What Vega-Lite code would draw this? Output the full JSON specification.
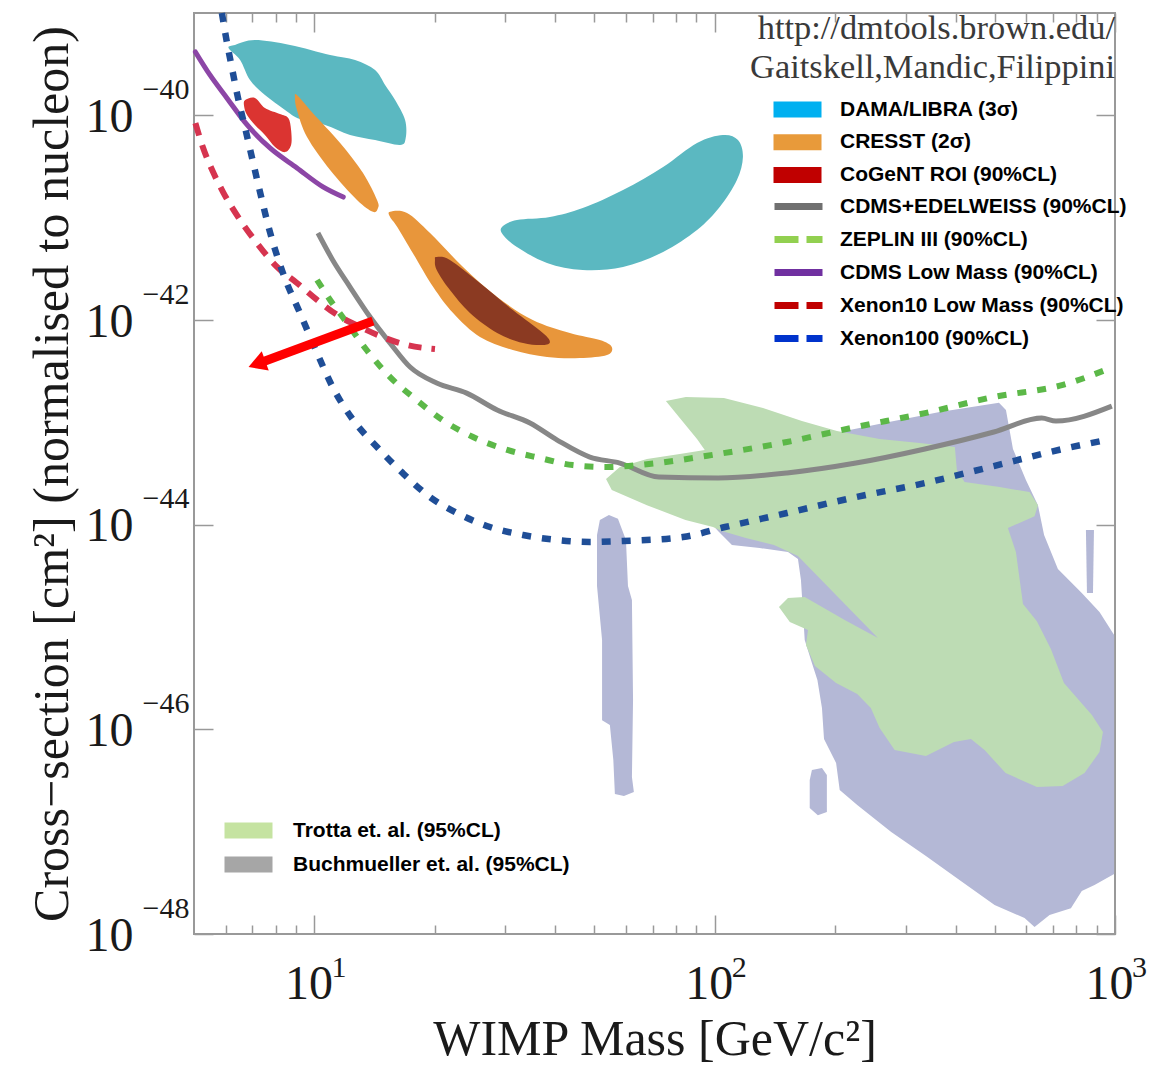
{
  "$schema": "https://vega.github.io/schema/vega-lite/v6.json",
  "width": 921,
  "height": 921,
  "autosize": {"type": "none"},
  "padding": {"left": 194, "top": 13, "right": 42, "bottom": 136},
  "background": "white",
  "config": {"view": {"stroke": "#999999", "strokeWidth": 2}, "font": "Liberation Sans"},
  "title": {
    "text": ["http://dmtools.brown.edu/", "Gaitskell,Mandic,Filippini"],
    "orient": "top", "anchor": "end", "frame": "group", "offset": 0, "baseline": "top", "dy": 85,
    "font": "Liberation Serif", "fontSize": 34.4, "fontWeight": "normal", "color": "#3a3a3a", "lineHeight": 39
  },
  "datasets": {
    "regions": [
      {"series": "DAMA/LIBRA (3σ)", "part": "d1", "i": 1, "mass": 6.33, "xsec": 4.87e-40},
      {"series": "DAMA/LIBRA (3σ)", "part": "d1", "i": 2, "mass": 7.10, "xsec": 5.44e-40},
      {"series": "DAMA/LIBRA (3σ)", "part": "d1", "i": 3, "mass": 8.69, "xsec": 4.87e-40},
      {"series": "DAMA/LIBRA (3σ)", "part": "d1", "i": 4, "mass": 10.94, "xsec": 3.89e-40},
      {"series": "DAMA/LIBRA (3σ)", "part": "d1", "i": 5, "mass": 12.63, "xsec": 3.47e-40},
      {"series": "DAMA/LIBRA (3σ)", "part": "d1", "i": 6, "mass": 14.17, "xsec": 2.77e-40},
      {"series": "DAMA/LIBRA (3σ)", "part": "d1", "i": 7, "mass": 15.01, "xsec": 1.98e-40},
      {"series": "DAMA/LIBRA (3σ)", "part": "d1", "i": 8, "mass": 15.90, "xsec": 1.41e-40},
      {"series": "DAMA/LIBRA (3σ)", "part": "d1", "i": 9, "mass": 16.84, "xsec": 9.00e-41},
      {"series": "DAMA/LIBRA (3σ)", "part": "d1", "i": 10, "mass": 16.9, "xsec": 6.0e-41},
      {"series": "DAMA/LIBRA (3σ)", "part": "d1", "i": 11, "mass": 16.36, "xsec": 5.13e-41},
      {"series": "DAMA/LIBRA (3σ)", "part": "d1", "i": 12, "mass": 14.17, "xsec": 5.74e-41},
      {"series": "DAMA/LIBRA (3σ)", "part": "d1", "i": 13, "mass": 12.27, "xsec": 6.43e-41},
      {"series": "DAMA/LIBRA (3σ)", "part": "d1", "i": 14, "mass": 10.63, "xsec": 8.05e-41},
      {"series": "DAMA/LIBRA (3σ)", "part": "d1", "i": 15, "mass": 9.20, "xsec": 9.2e-41},
      {"series": "DAMA/LIBRA (3σ)", "part": "d1", "i": 16, "mass": 8.44, "xsec": 1.13e-40},
      {"series": "DAMA/LIBRA (3σ)", "part": "d1", "i": 17, "mass": 7.52, "xsec": 1.58e-40},
      {"series": "DAMA/LIBRA (3σ)", "part": "d1", "i": 18, "mass": 6.90, "xsec": 2.21e-40},
      {"series": "DAMA/LIBRA (3σ)", "part": "d1", "i": 19, "mass": 6.52, "xsec": 3.47e-40},
      {"series": "DAMA/LIBRA (3σ)", "part": "d1", "i": 20, "mass": 6.10, "xsec": 4.55e-40},
      {"series": "DAMA/LIBRA (3σ)", "part": "d2", "i": 1, "mass": 29.4, "xsec": 8.11e-42},
      {"series": "DAMA/LIBRA (3σ)", "part": "d2", "i": 2, "mass": 32.05, "xsec": 9.48e-42},
      {"series": "DAMA/LIBRA (3σ)", "part": "d2", "i": 3, "mass": 38.74, "xsec": 1.015e-41},
      {"series": "DAMA/LIBRA (3σ)", "part": "d2", "i": 4, "mass": 46.8, "xsec": 1.24e-41},
      {"series": "DAMA/LIBRA (3σ)", "part": "d2", "i": 5, "mass": 59.0, "xsec": 1.86e-41},
      {"series": "DAMA/LIBRA (3σ)", "part": "d2", "i": 6, "mass": 74.3, "xsec": 3.13e-41},
      {"series": "DAMA/LIBRA (3σ)", "part": "d2", "i": 7, "mass": 90.3, "xsec": 5.37e-41},
      {"series": "DAMA/LIBRA (3σ)", "part": "d2", "i": 8, "mass": 104.8, "xsec": 6.43e-41},
      {"series": "DAMA/LIBRA (3σ)", "part": "d2", "i": 9, "mass": 114.3, "xsec": 5.74e-41},
      {"series": "DAMA/LIBRA (3σ)", "part": "d2", "i": 10, "mass": 117.6, "xsec": 3.92e-41},
      {"series": "DAMA/LIBRA (3σ)", "part": "d2", "i": 11, "mass": 113.6, "xsec": 2.33e-41},
      {"series": "DAMA/LIBRA (3σ)", "part": "d2", "i": 12, "mass": 102.9, "xsec": 1.27e-41},
      {"series": "DAMA/LIBRA (3σ)", "part": "d2", "i": 13, "mass": 90.3, "xsec": 7.57e-42},
      {"series": "DAMA/LIBRA (3σ)", "part": "d2", "i": 14, "mass": 74.3, "xsec": 4.62e-42},
      {"series": "DAMA/LIBRA (3σ)", "part": "d2", "i": 15, "mass": 59.0, "xsec": 3.30e-42},
      {"series": "DAMA/LIBRA (3σ)", "part": "d2", "i": 16, "mass": 46.8, "xsec": 3.08e-42},
      {"series": "DAMA/LIBRA (3σ)", "part": "d2", "i": 17, "mass": 38.1, "xsec": 3.61e-42},
      {"series": "DAMA/LIBRA (3σ)", "part": "d2", "i": 18, "mass": 32.05, "xsec": 5.17e-42},
      {"series": "DAMA/LIBRA (3σ)", "part": "d2", "i": 19, "mass": 29.6, "xsec": 6.77e-42},
      {"series": "CoGeNT ROI (90%CL)", "part": "c1", "i": 1, "mass": 6.71, "xsec": 1.41e-40},
      {"series": "CoGeNT ROI (90%CL)", "part": "c1", "i": 2, "mass": 7.10, "xsec": 1.48e-40},
      {"series": "CoGeNT ROI (90%CL)", "part": "c1", "i": 3, "mass": 7.52, "xsec": 1.18e-40},
      {"series": "CoGeNT ROI (90%CL)", "part": "c1", "i": 4, "mass": 8.20, "xsec": 1.03e-40},
      {"series": "CoGeNT ROI (90%CL)", "part": "c1", "i": 5, "mass": 8.6, "xsec": 9.4e-41},
      {"series": "CoGeNT ROI (90%CL)", "part": "c1", "i": 6, "mass": 8.74, "xsec": 7.19e-41},
      {"series": "CoGeNT ROI (90%CL)", "part": "c1", "i": 7, "mass": 8.74, "xsec": 5.13e-41},
      {"series": "CoGeNT ROI (90%CL)", "part": "c1", "i": 8, "mass": 8.44, "xsec": 4.37e-41},
      {"series": "CoGeNT ROI (90%CL)", "part": "c1", "i": 9, "mass": 7.97, "xsec": 4.90e-41},
      {"series": "CoGeNT ROI (90%CL)", "part": "c1", "i": 10, "mass": 7.52, "xsec": 6.43e-41},
      {"series": "CoGeNT ROI (90%CL)", "part": "c1", "i": 11, "mass": 7.10, "xsec": 8.05e-41},
      {"series": "CoGeNT ROI (90%CL)", "part": "c1", "i": 12, "mass": 6.79, "xsec": 1.00e-40},
      {"series": "CoGeNT ROI (90%CL)", "part": "c1", "i": 13, "mass": 6.67, "xsec": 1.23e-40},
      {"series": "CRESST (2σ)", "part": "r1", "i": 1, "mass": 9.04, "xsec": 1.58e-40},
      {"series": "CRESST (2σ)", "part": "r1", "i": 2, "mass": 9.91, "xsec": 1.05e-40},
      {"series": "CRESST (2σ)", "part": "r1", "i": 3, "mass": 11.59, "xsec": 5.37e-41},
      {"series": "CRESST (2σ)", "part": "r1", "i": 4, "mass": 13.22, "xsec": 2.73e-41},
      {"series": "CRESST (2σ)", "part": "r1", "i": 5, "mass": 14.33, "xsec": 1.49e-41},
      {"series": "CRESST (2σ)", "part": "r1", "i": 6, "mass": 14.41, "xsec": 1.24e-41},
      {"series": "CRESST (2σ)", "part": "r1", "i": 7, "mass": 14.0, "xsec": 1.14e-41},
      {"series": "CRESST (2σ)", "part": "r1", "i": 8, "mass": 12.77, "xsec": 1.49e-41},
      {"series": "CRESST (2σ)", "part": "r1", "i": 9, "mass": 10.94, "xsec": 2.92e-41},
      {"series": "CRESST (2σ)", "part": "r1", "i": 10, "mass": 9.58, "xsec": 6.14e-41},
      {"series": "CRESST (2σ)", "part": "r1", "i": 11, "mass": 9.04, "xsec": 1.13e-40},
      {"series": "CRESST (2σ)", "part": "r1", "i": 12, "mass": 8.94, "xsec": 1.48e-40},
      {"series": "CRESST (2σ)", "part": "r2", "i": 1, "mass": 15.45, "xsec": 1.14e-41},
      {"series": "CRESST (2σ)", "part": "r2", "i": 2, "mass": 17.03, "xsec": 1.11e-41},
      {"series": "CRESST (2σ)", "part": "r2", "i": 3, "mass": 19.44, "xsec": 7.08e-42},
      {"series": "CRESST (2σ)", "part": "r2", "i": 4, "mass": 23.5, "xsec": 3.30e-42},
      {"series": "CRESST (2σ)", "part": "r2", "i": 5, "mass": 28.6, "xsec": 1.68e-42},
      {"series": "CRESST (2σ)", "part": "r2", "i": 6, "mass": 35.1, "xsec": 1.00e-42},
      {"series": "CRESST (2σ)", "part": "r2", "i": 7, "mass": 43.46, "xsec": 7.46e-43},
      {"series": "CRESST (2σ)", "part": "r2", "i": 8, "mass": 51.64, "xsec": 6.37e-43},
      {"series": "CRESST (2σ)", "part": "r2", "i": 9, "mass": 55.3, "xsec": 5.45e-43},
      {"series": "CRESST (2σ)", "part": "r2", "i": 10, "mass": 53.8, "xsec": 4.55e-43},
      {"series": "CRESST (2σ)", "part": "r2", "i": 11, "mass": 46.03, "xsec": 4.25e-43},
      {"series": "CRESST (2σ)", "part": "r2", "i": 12, "mass": 38.1, "xsec": 4.35e-43},
      {"series": "CRESST (2σ)", "part": "r2", "i": 13, "mass": 31.3, "xsec": 5.09e-43},
      {"series": "CRESST (2σ)", "part": "r2", "i": 14, "mass": 25.91, "xsec": 6.82e-43},
      {"series": "CRESST (2σ)", "part": "r2", "i": 15, "mass": 22.2, "xsec": 1.17e-42},
      {"series": "CRESST (2σ)", "part": "r2", "i": 16, "mass": 19.8, "xsec": 2.10e-42},
      {"series": "CRESST (2σ)", "part": "r2", "i": 17, "mass": 17.6, "xsec": 4.52e-42},
      {"series": "CRESST (2σ)", "part": "r2", "i": 18, "mass": 16.1, "xsec": 8.11e-42},
      {"series": "CRESST (2σ)", "part": "r2", "i": 19, "mass": 15.45, "xsec": 1.015e-41}
    ],
    "cresst1": [
      {"i": 1, "mass": 20.2, "xsec": 4.13e-42},
      {"i": 2, "mass": 21.8, "xsec": 3.86e-42},
      {"i": 3, "mass": 25.9, "xsec": 2.30e-42},
      {"i": 4, "mass": 31.3, "xsec": 1.25e-42},
      {"i": 5, "mass": 37.2, "xsec": 7.46e-43},
      {"i": 6, "mass": 38.74, "xsec": 6.10e-43},
      {"i": 7, "mass": 37.2, "xsec": 5.69e-43},
      {"i": 8, "mass": 33.2, "xsec": 5.95e-43},
      {"i": 9, "mass": 28.6, "xsec": 7.46e-43},
      {"i": 10, "mass": 24.46, "xsec": 1.17e-42},
      {"i": 11, "mass": 21.8, "xsec": 1.96e-42},
      {"i": 12, "mass": 20.2, "xsec": 3.08e-42},
      {"i": 13, "mass": 20.0, "xsec": 3.86e-42}
    ],
    "limits": [
      {"series": "CDMS Low Mass (90%CL)", "mass": 5.04, "xsec": 4.16e-40},
      {"series": "CDMS Low Mass (90%CL)", "mass": 5.48, "xsec": 2.48e-40},
      {"series": "CDMS Low Mass (90%CL)", "mass": 6.04, "xsec": 1.48e-40},
      {"series": "CDMS Low Mass (90%CL)", "mass": 6.79, "xsec": 8.05e-41},
      {"series": "CDMS Low Mass (90%CL)", "mass": 7.74, "xsec": 4.80e-41},
      {"series": "CDMS Low Mass (90%CL)", "mass": 9.04, "xsec": 3.06e-41},
      {"series": "CDMS Low Mass (90%CL)", "mass": 10.5, "xsec": 2.0e-41},
      {"series": "CDMS Low Mass (90%CL)", "mass": 11.8, "xsec": 1.59e-41},
      {"series": "Xenon100 (90%CL)", "mass": 5.87, "xsec": 1.0e-39},
      {"series": "Xenon100 (90%CL)", "mass": 6.04, "xsec": 5.21e-40},
      {"series": "Xenon100 (90%CL)", "mass": 6.22, "xsec": 2.90e-40},
      {"series": "Xenon100 (90%CL)", "mass": 6.44, "xsec": 1.48e-40},
      {"series": "Xenon100 (90%CL)", "mass": 6.71, "xsec": 7.52e-41},
      {"series": "Xenon100 (90%CL)", "mass": 7.02, "xsec": 3.50e-41},
      {"series": "Xenon100 (90%CL)", "mass": 7.31, "xsec": 1.78e-41},
      {"series": "Xenon100 (90%CL)", "mass": 7.74, "xsec": 7.24e-42},
      {"series": "Xenon100 (90%CL)", "mass": 8.34, "xsec": 2.88e-42},
      {"series": "Xenon100 (90%CL)", "mass": 9.20, "xsec": 1.17e-42},
      {"series": "Xenon100 (90%CL)", "mass": 10.15, "xsec": 4.76e-43},
      {"series": "Xenon100 (90%CL)", "mass": 11.1, "xsec": 2.21e-43},
      {"series": "Xenon100 (90%CL)", "mass": 12.5, "xsec": 1.05e-43},
      {"series": "Xenon100 (90%CL)", "mass": 14.33, "xsec": 5.74e-44},
      {"series": "Xenon100 (90%CL)", "mass": 16.6, "xsec": 3.20e-44},
      {"series": "Xenon100 (90%CL)", "mass": 19.44, "xsec": 1.86e-44},
      {"series": "Xenon100 (90%CL)", "mass": 22.7, "xsec": 1.30e-44},
      {"series": "Xenon100 (90%CL)", "mass": 27.44, "xsec": 9.48e-45},
      {"series": "Xenon100 (90%CL)", "mass": 33.2, "xsec": 7.92e-45},
      {"series": "Xenon100 (90%CL)", "mass": 40.4, "xsec": 7.08e-45},
      {"series": "Xenon100 (90%CL)", "mass": 48.76, "xsec": 6.77e-45},
      {"series": "Xenon100 (90%CL)", "mass": 59.0, "xsec": 6.92e-45},
      {"series": "Xenon100 (90%CL)", "mass": 83.3, "xsec": 7.57e-45},
      {"series": "Xenon100 (90%CL)", "mass": 106.1, "xsec": 9.48e-45},
      {"series": "Xenon100 (90%CL)", "mass": 151.5, "xsec": 1.30e-44},
      {"series": "Xenon100 (90%CL)", "mass": 225.3, "xsec": 1.86e-44},
      {"series": "Xenon100 (90%CL)", "mass": 335, "xsec": 2.55e-44},
      {"series": "Xenon100 (90%CL)", "mass": 498, "xsec": 3.74e-44},
      {"series": "Xenon100 (90%CL)", "mass": 741, "xsec": 5.49e-44},
      {"series": "Xenon100 (90%CL)", "mass": 949, "xsec": 6.71e-44},
      {"series": "Xenon10 Low Mass (90%CL)", "mass": 5.04, "xsec": 8.41e-41},
      {"series": "Xenon10 Low Mass (90%CL)", "mass": 5.26, "xsec": 4.90e-41},
      {"series": "Xenon10 Low Mass (90%CL)", "mass": 5.58, "xsec": 2.79e-41},
      {"series": "Xenon10 Low Mass (90%CL)", "mass": 5.91, "xsec": 1.78e-41},
      {"series": "Xenon10 Low Mass (90%CL)", "mass": 6.52, "xsec": 9.48e-42},
      {"series": "Xenon10 Low Mass (90%CL)", "mass": 7.18, "xsec": 5.65e-42},
      {"series": "Xenon10 Low Mass (90%CL)", "mass": 8.06, "xsec": 3.30e-42},
      {"series": "Xenon10 Low Mass (90%CL)", "mass": 9.04, "xsec": 2.30e-42},
      {"series": "Xenon10 Low Mass (90%CL)", "mass": 10.15, "xsec": 1.57e-42},
      {"series": "Xenon10 Low Mass (90%CL)", "mass": 11.4, "xsec": 1.12e-42},
      {"series": "Xenon10 Low Mass (90%CL)", "mass": 13.0, "xsec": 8.54e-43},
      {"series": "Xenon10 Low Mass (90%CL)", "mass": 14.8, "xsec": 6.82e-43},
      {"series": "Xenon10 Low Mass (90%CL)", "mass": 17.03, "xsec": 5.69e-43},
      {"series": "Xenon10 Low Mass (90%CL)", "mass": 20.0, "xsec": 5.21e-43},
      {"series": "ZEPLIN III (90%CL)", "mass": 10.15, "xsec": 2.46e-42},
      {"series": "ZEPLIN III (90%CL)", "mass": 10.94, "xsec": 1.57e-42},
      {"series": "ZEPLIN III (90%CL)", "mass": 12.06, "xsec": 9.35e-43},
      {"series": "ZEPLIN III (90%CL)", "mass": 13.5, "xsec": 5.09e-43},
      {"series": "ZEPLIN III (90%CL)", "mass": 15.45, "xsec": 2.77e-43},
      {"series": "ZEPLIN III (90%CL)", "mass": 18.0, "xsec": 1.65e-43},
      {"series": "ZEPLIN III (90%CL)", "mass": 20.9, "xsec": 1.05e-43},
      {"series": "ZEPLIN III (90%CL)", "mass": 24.9, "xsec": 7.19e-44},
      {"series": "ZEPLIN III (90%CL)", "mass": 30.3, "xsec": 5.37e-44},
      {"series": "ZEPLIN III (90%CL)", "mass": 36.58, "xsec": 4.48e-44},
      {"series": "ZEPLIN III (90%CL)", "mass": 44.2, "xsec": 3.82e-44},
      {"series": "ZEPLIN III (90%CL)", "mass": 53.8, "xsec": 3.66e-44},
      {"series": "ZEPLIN III (90%CL)", "mass": 68.5, "xsec": 3.92e-44},
      {"series": "ZEPLIN III (90%CL)", "mass": 101.9, "xsec": 4.90e-44},
      {"series": "ZEPLIN III (90%CL)", "mass": 151.5, "xsec": 6.43e-44},
      {"series": "ZEPLIN III (90%CL)", "mass": 225.3, "xsec": 9.0e-44},
      {"series": "ZEPLIN III (90%CL)", "mass": 335, "xsec": 1.23e-43},
      {"series": "ZEPLIN III (90%CL)", "mass": 498, "xsec": 1.77e-43},
      {"series": "ZEPLIN III (90%CL)", "mass": 741, "xsec": 2.32e-43},
      {"series": "ZEPLIN III (90%CL)", "mass": 988, "xsec": 3.47e-43},
      {"series": "CDMS+EDELWEISS (90%CL)", "mass": 10.2, "xsec": 7.08e-42},
      {"series": "CDMS+EDELWEISS (90%CL)", "mass": 11.1, "xsec": 3.86e-42},
      {"series": "CDMS+EDELWEISS (90%CL)", "mass": 12.27, "xsec": 2.10e-42},
      {"series": "CDMS+EDELWEISS (90%CL)", "mass": 13.77, "xsec": 1.07e-42},
      {"series": "CDMS+EDELWEISS (90%CL)", "mass": 15.45, "xsec": 5.95e-43},
      {"series": "CDMS+EDELWEISS (90%CL)", "mass": 17.33, "xsec": 3.47e-43},
      {"series": "CDMS+EDELWEISS (90%CL)", "mass": 20.2, "xsec": 2.42e-43},
      {"series": "CDMS+EDELWEISS (90%CL)", "mass": 24.0, "xsec": 1.93e-43},
      {"series": "CDMS+EDELWEISS (90%CL)", "mass": 28.6, "xsec": 1.32e-43},
      {"series": "CDMS+EDELWEISS (90%CL)", "mass": 34.54, "xsec": 9.85e-44},
      {"series": "CDMS+EDELWEISS (90%CL)", "mass": 40.4, "xsec": 6.71e-44},
      {"series": "CDMS+EDELWEISS (90%CL)", "mass": 48.76, "xsec": 4.58e-44},
      {"series": "CDMS+EDELWEISS (90%CL)", "mass": 57.93, "xsec": 4.00e-44},
      {"series": "CDMS+EDELWEISS (90%CL)", "mass": 72.5, "xsec": 2.92e-44},
      {"series": "CDMS+EDELWEISS (90%CL)", "mass": 101.9, "xsec": 2.86e-44},
      {"series": "CDMS+EDELWEISS (90%CL)", "mass": 151.5, "xsec": 3.20e-44},
      {"series": "CDMS+EDELWEISS (90%CL)", "mass": 225.3, "xsec": 4.00e-44},
      {"series": "CDMS+EDELWEISS (90%CL)", "mass": 335, "xsec": 5.49e-44},
      {"series": "CDMS+EDELWEISS (90%CL)", "mass": 498, "xsec": 8.04e-44},
      {"series": "CDMS+EDELWEISS (90%CL)", "mass": 656, "xsec": 1.10e-43},
      {"series": "CDMS+EDELWEISS (90%CL)", "mass": 712, "xsec": 1.03e-43},
      {"series": "CDMS+EDELWEISS (90%CL)", "mass": 982, "xsec": 1.44e-43}
    ],
    "buch": [
      {"model": "Buchmueller et. al. (95%CL)", "part": "b1", "i": 1, "mass": 88.8, "xsec": 2.28e-44},
      {"model": "Buchmueller et. al. (95%CL)", "part": "b1", "i": 2, "mass": 102.9, "xsec": 3.42e-44},
      {"model": "Buchmueller et. al. (95%CL)", "part": "b1", "i": 3, "mass": 129.5, "xsec": 4.78e-44},
      {"model": "Buchmueller et. al. (95%CL)", "part": "b1", "i": 4, "mass": 163.0, "xsec": 5.99e-44},
      {"model": "Buchmueller et. al. (95%CL)", "part": "b1", "i": 5, "mass": 217.3, "xsec": 8.41e-44},
      {"model": "Buchmueller et. al. (95%CL)", "part": "b1", "i": 6, "mass": 264.6, "xsec": 9.85e-44},
      {"model": "Buchmueller et. al. (95%CL)", "part": "b1", "i": 7, "mass": 364.6, "xsec": 1.26e-43},
      {"model": "Buchmueller et. al. (95%CL)", "part": "b1", "i": 8, "mass": 513, "xsec": 1.55e-43},
      {"model": "Buchmueller et. al. (95%CL)", "part": "b1", "i": 9, "mass": 534, "xsec": 1.32e-43},
      {"model": "Buchmueller et. al. (95%CL)", "part": "b1", "i": 10, "mass": 556, "xsec": 5.49e-44},
      {"model": "Buchmueller et. al. (95%CL)", "part": "b1", "i": 11, "mass": 599, "xsec": 2.73e-44},
      {"model": "Buchmueller et. al. (95%CL)", "part": "b1", "i": 12, "mass": 642, "xsec": 1.55e-44},
      {"model": "Buchmueller et. al. (95%CL)", "part": "b1", "i": 13, "mass": 665, "xsec": 7.92e-45},
      {"model": "Buchmueller et. al. (95%CL)", "part": "b1", "i": 14, "mass": 720, "xsec": 3.69e-45},
      {"model": "Buchmueller et. al. (95%CL)", "part": "b1", "i": 15, "mass": 826, "xsec": 2.15e-45},
      {"model": "Buchmueller et. al. (95%CL)", "part": "b1", "i": 16, "mass": 914.7, "xsec": 1.40e-45},
      {"model": "Buchmueller et. al. (95%CL)", "part": "b1", "i": 17, "mass": 995, "xsec": 8.35e-46},
      {"model": "Buchmueller et. al. (95%CL)", "part": "b1", "i": 18, "mass": 995, "xsec": 3.86e-48},
      {"model": "Buchmueller et. al. (95%CL)", "part": "b1", "i": 19, "mass": 888.8, "xsec": 3.01e-48},
      {"model": "Buchmueller et. al. (95%CL)", "part": "b1", "i": 20, "mass": 826, "xsec": 2.63e-48},
      {"model": "Buchmueller et. al. (95%CL)", "part": "b1", "i": 21, "mass": 776, "xsec": 1.79e-48},
      {"model": "Buchmueller et. al. (95%CL)", "part": "b1", "i": 22, "mass": 686.2, "xsec": 1.53e-48},
      {"model": "Buchmueller et. al. (95%CL)", "part": "b1", "i": 23, "mass": 629.5, "xsec": 1.17e-48},
      {"model": "Buchmueller et. al. (95%CL)", "part": "b1", "i": 24, "mass": 594.3, "xsec": 1.43e-48},
      {"model": "Buchmueller et. al. (95%CL)", "part": "b1", "i": 25, "mass": 500.2, "xsec": 1.92e-48},
      {"model": "Buchmueller et. al. (95%CL)", "part": "b1", "i": 26, "mass": 412, "xsec": 3.30e-48},
      {"model": "Buchmueller et. al. (95%CL)", "part": "b1", "i": 27, "mass": 337, "xsec": 5.78e-48},
      {"model": "Buchmueller et. al. (95%CL)", "part": "b1", "i": 28, "mass": 276, "xsec": 9.92e-48},
      {"model": "Buchmueller et. al. (95%CL)", "part": "b1", "i": 29, "mass": 227, "xsec": 1.82e-47},
      {"model": "Buchmueller et. al. (95%CL)", "part": "b1", "i": 30, "mass": 205.2, "xsec": 2.55e-47},
      {"model": "Buchmueller et. al. (95%CL)", "part": "b1", "i": 31, "mass": 201, "xsec": 4.69e-47},
      {"model": "Buchmueller et. al. (95%CL)", "part": "b1", "i": 32, "mass": 193, "xsec": 6.42e-47},
      {"model": "Buchmueller et. al. (95%CL)", "part": "b1", "i": 33, "mass": 187.5, "xsec": 8.04e-47},
      {"model": "Buchmueller et. al. (95%CL)", "part": "b1", "i": 34, "mass": 185.3, "xsec": 1.62e-46},
      {"model": "Buchmueller et. al. (95%CL)", "part": "b1", "i": 35, "mass": 180.5, "xsec": 3.03e-46},
      {"model": "Buchmueller et. al. (95%CL)", "part": "b1", "i": 36, "mass": 174.9, "xsec": 4.44e-46},
      {"model": "Buchmueller et. al. (95%CL)", "part": "b1", "i": 37, "mass": 167.8, "xsec": 7.46e-46},
      {"model": "Buchmueller et. al. (95%CL)", "part": "b1", "i": 38, "mass": 164.2, "xsec": 2.88e-45},
      {"model": "Buchmueller et. al. (95%CL)", "part": "b1", "i": 39, "mass": 161.4, "xsec": 4.62e-45},
      {"model": "Buchmueller et. al. (95%CL)", "part": "b1", "i": 40, "mass": 152.4, "xsec": 5.41e-45},
      {"model": "Buchmueller et. al. (95%CL)", "part": "b1", "i": 41, "mass": 129.5, "xsec": 5.91e-45},
      {"model": "Buchmueller et. al. (95%CL)", "part": "b1", "i": 42, "mass": 110.4, "xsec": 6.33e-45},
      {"model": "Buchmueller et. al. (95%CL)", "part": "b1", "i": 43, "mass": 101.9, "xsec": 8.67e-45},
      {"model": "Buchmueller et. al. (95%CL)", "part": "b1", "i": 44, "mass": 91.75, "xsec": 1.39e-44},
      {"model": "Buchmueller et. al. (95%CL)", "part": "b2", "i": 1, "mass": 50.8, "xsec": 7.92e-45},
      {"model": "Buchmueller et. al. (95%CL)", "part": "b2", "i": 2, "mass": 51.64, "xsec": 1.11e-44},
      {"model": "Buchmueller et. al. (95%CL)", "part": "b2", "i": 3, "mass": 54.4, "xsec": 1.24e-44},
      {"model": "Buchmueller et. al. (95%CL)", "part": "b2", "i": 4, "mass": 57.3, "xsec": 1.14e-44},
      {"model": "Buchmueller et. al. (95%CL)", "part": "b2", "i": 5, "mass": 60.0, "xsec": 7.08e-45},
      {"model": "Buchmueller et. al. (95%CL)", "part": "b2", "i": 6, "mass": 60.7, "xsec": 2.52e-45},
      {"model": "Buchmueller et. al. (95%CL)", "part": "b2", "i": 7, "mass": 62.1, "xsec": 1.84e-45},
      {"model": "Buchmueller et. al. (95%CL)", "part": "b2", "i": 8, "mass": 62.5, "xsec": 1.93e-46},
      {"model": "Buchmueller et. al. (95%CL)", "part": "b2", "i": 9, "mass": 62.1, "xsec": 3.42e-47},
      {"model": "Buchmueller et. al. (95%CL)", "part": "b2", "i": 10, "mass": 62.8, "xsec": 2.44e-47},
      {"model": "Buchmueller et. al. (95%CL)", "part": "b2", "i": 11, "mass": 59.3, "xsec": 2.23e-47},
      {"model": "Buchmueller et. al. (95%CL)", "part": "b2", "i": 12, "mass": 56.3, "xsec": 2.33e-47},
      {"model": "Buchmueller et. al. (95%CL)", "part": "b2", "i": 13, "mass": 55.8, "xsec": 5.01e-47},
      {"model": "Buchmueller et. al. (95%CL)", "part": "b2", "i": 14, "mass": 54.7, "xsec": 1.10e-46},
      {"model": "Buchmueller et. al. (95%CL)", "part": "b2", "i": 15, "mass": 52.3, "xsec": 1.23e-46},
      {"model": "Buchmueller et. al. (95%CL)", "part": "b2", "i": 16, "mass": 52.3, "xsec": 7.46e-46},
      {"model": "Buchmueller et. al. (95%CL)", "part": "b2", "i": 17, "mass": 50.8, "xsec": 2.52e-45},
      {"model": "Buchmueller et. al. (95%CL)", "part": "b3", "i": 1, "mass": 174.9, "xsec": 4.00e-47},
      {"model": "Buchmueller et. al. (95%CL)", "part": "b3", "i": 2, "mass": 185.3, "xsec": 4.19e-47},
      {"model": "Buchmueller et. al. (95%CL)", "part": "b3", "i": 3, "mass": 190.6, "xsec": 3.57e-47},
      {"model": "Buchmueller et. al. (95%CL)", "part": "b3", "i": 4, "mass": 190.6, "xsec": 1.56e-47},
      {"model": "Buchmueller et. al. (95%CL)", "part": "b3", "i": 5, "mass": 181.0, "xsec": 1.45e-47},
      {"model": "Buchmueller et. al. (95%CL)", "part": "b3", "i": 6, "mass": 172.7, "xsec": 1.70e-47},
      {"model": "Buchmueller et. al. (95%CL)", "part": "b3", "i": 7, "mass": 172.7, "xsec": 3.20e-47},
      {"model": "Buchmueller et. al. (95%CL)", "part": "b4", "i": 1, "mass": 846, "xsec": 8.87e-45},
      {"model": "Buchmueller et. al. (95%CL)", "part": "b4", "i": 2, "mass": 886, "xsec": 8.87e-45},
      {"model": "Buchmueller et. al. (95%CL)", "part": "b4", "i": 3, "mass": 881, "xsec": 2.15e-45},
      {"model": "Buchmueller et. al. (95%CL)", "part": "b4", "i": 4, "mass": 851, "xsec": 2.15e-45}
    ],
    "trotta": [
      {"model": "Trotta et. al. (95%CL)", "i": 1, "mass": 53.5, "xsec": 2.79e-44},
      {"model": "Trotta et. al. (95%CL)", "i": 2, "mass": 57.93, "xsec": 3.66e-44},
      {"model": "Trotta et. al. (95%CL)", "i": 3, "mass": 67.7, "xsec": 4.38e-44},
      {"model": "Trotta et. al. (95%CL)", "i": 4, "mass": 81.78, "xsec": 4.90e-44},
      {"model": "Trotta et. al. (95%CL)", "i": 5, "mass": 94.42, "xsec": 5.37e-44},
      {"model": "Trotta et. al. (95%CL)", "i": 6, "mass": 90.3, "xsec": 6.87e-44},
      {"model": "Trotta et. al. (95%CL)", "i": 7, "mass": 81.78, "xsec": 1.10e-43},
      {"model": "Trotta et. al. (95%CL)", "i": 8, "mass": 75.5, "xsec": 1.62e-43},
      {"model": "Trotta et. al. (95%CL)", "i": 9, "mass": 84.7, "xsec": 1.77e-43},
      {"model": "Trotta et. al. (95%CL)", "i": 10, "mass": 105.4, "xsec": 1.73e-43},
      {"model": "Trotta et. al. (95%CL)", "i": 11, "mass": 132.0, "xsec": 1.38e-43},
      {"model": "Trotta et. al. (95%CL)", "i": 12, "mass": 165.1, "xsec": 1.03e-43},
      {"model": "Trotta et. al. (95%CL)", "i": 13, "mass": 202, "xsec": 8.23e-44},
      {"model": "Trotta et. al. (95%CL)", "i": 14, "mass": 258.2, "xsec": 6.87e-44},
      {"model": "Trotta et. al. (95%CL)", "i": 15, "mass": 325.0, "xsec": 6.28e-44},
      {"model": "Trotta et. al. (95%CL)", "i": 16, "mass": 398, "xsec": 5.74e-44},
      {"model": "Trotta et. al. (95%CL)", "i": 17, "mass": 402.6, "xsec": 3.42e-44},
      {"model": "Trotta et. al. (95%CL)", "i": 18, "mass": 420.9, "xsec": 2.61e-44},
      {"model": "Trotta et. al. (95%CL)", "i": 19, "mass": 514.8, "xsec": 2.33e-44},
      {"model": "Trotta et. al. (95%CL)", "i": 20, "mass": 611.6, "xsec": 2.08e-44},
      {"model": "Trotta et. al. (95%CL)", "i": 21, "mass": 642, "xsec": 1.55e-44},
      {"model": "Trotta et. al. (95%CL)", "i": 22, "mass": 629.5, "xsec": 1.21e-44},
      {"model": "Trotta et. al. (95%CL)", "i": 23, "mass": 540, "xsec": 9.28e-45},
      {"model": "Trotta et. al. (95%CL)", "i": 24, "mass": 565.5, "xsec": 5.41e-45},
      {"model": "Trotta et. al. (95%CL)", "i": 25, "mass": 589, "xsec": 1.68e-45},
      {"model": "Trotta et. al. (95%CL)", "i": 26, "mass": 638, "xsec": 1.14e-45},
      {"model": "Trotta et. al. (95%CL)", "i": 27, "mass": 691.5, "xsec": 6.09e-46},
      {"model": "Trotta et. al. (95%CL)", "i": 28, "mass": 745.5, "xsec": 2.84e-46},
      {"model": "Trotta et. al. (95%CL)", "i": 29, "mass": 875.5, "xsec": 1.38e-46},
      {"model": "Trotta et. al. (95%CL)", "i": 30, "mass": 933, "xsec": 9.41e-47},
      {"model": "Trotta et. al. (95%CL)", "i": 31, "mass": 914.7, "xsec": 6.00e-47},
      {"model": "Trotta et. al. (95%CL)", "i": 32, "mass": 839.1, "xsec": 3.74e-47},
      {"model": "Trotta et. al. (95%CL)", "i": 33, "mass": 740, "xsec": 2.79e-47},
      {"model": "Trotta et. al. (95%CL)", "i": 34, "mass": 638, "xsec": 2.73e-47},
      {"model": "Trotta et. al. (95%CL)", "i": 35, "mass": 533, "xsec": 3.74e-47},
      {"model": "Trotta et. al. (95%CL)", "i": 36, "mass": 472.2, "xsec": 6.28e-47},
      {"model": "Trotta et. al. (95%CL)", "i": 37, "mass": 436.6, "xsec": 8.04e-47},
      {"model": "Trotta et. al. (95%CL)", "i": 38, "mass": 396, "xsec": 7.52e-47},
      {"model": "Trotta et. al. (95%CL)", "i": 39, "mass": 337, "xsec": 5.48e-47},
      {"model": "Trotta et. al. (95%CL)", "i": 40, "mass": 281.5, "xsec": 6.28e-47},
      {"model": "Trotta et. al. (95%CL)", "i": 41, "mass": 258.2, "xsec": 1.03e-46},
      {"model": "Trotta et. al. (95%CL)", "i": 42, "mass": 245.5, "xsec": 1.62e-46},
      {"model": "Trotta et. al. (95%CL)", "i": 43, "mass": 227, "xsec": 2.21e-46},
      {"model": "Trotta et. al. (95%CL)", "i": 44, "mass": 201, "xsec": 2.84e-46},
      {"model": "Trotta et. al. (95%CL)", "i": 45, "mass": 178, "xsec": 4.16e-46},
      {"model": "Trotta et. al. (95%CL)", "i": 46, "mass": 169, "xsec": 6.67e-46},
      {"model": "Trotta et. al. (95%CL)", "i": 47, "mass": 171, "xsec": 9.35e-46},
      {"model": "Trotta et. al. (95%CL)", "i": 48, "mass": 154, "xsec": 1.12e-45},
      {"model": "Trotta et. al. (95%CL)", "i": 49, "mass": 144.7, "xsec": 1.57e-45},
      {"model": "Trotta et. al. (95%CL)", "i": 50, "mass": 152.4, "xsec": 1.92e-45},
      {"model": "Trotta et. al. (95%CL)", "i": 51, "mass": 167.8, "xsec": 1.96e-45},
      {"model": "Trotta et. al. (95%CL)", "i": 52, "mass": 211.2, "xsec": 1.17e-45},
      {"model": "Trotta et. al. (95%CL)", "i": 53, "mass": 255.7, "xsec": 7.80e-46},
      {"model": "Trotta et. al. (95%CL)", "i": 54, "mass": 161.4, "xsec": 4.94e-45},
      {"model": "Trotta et. al. (95%CL)", "i": 55, "mass": 140.6, "xsec": 6.33e-45},
      {"model": "Trotta et. al. (95%CL)", "i": 56, "mass": 119.6, "xsec": 7.40e-45},
      {"model": "Trotta et. al. (95%CL)", "i": 57, "mass": 104.2, "xsec": 8.67e-45},
      {"model": "Trotta et. al. (95%CL)", "i": 58, "mass": 99.0, "xsec": 9.48e-45},
      {"model": "Trotta et. al. (95%CL)", "i": 59, "mass": 84.5, "xsec": 1.11e-44},
      {"model": "Trotta et. al. (95%CL)", "i": 60, "mass": 67.7, "xsec": 1.55e-44},
      {"model": "Trotta et. al. (95%CL)", "i": 61, "mass": 55.3, "xsec": 2.18e-44}
    ],
    "arrow": [
      {"mass": 14.0, "xsec": 9.77e-43, "mass2": 7.18, "xsec2": 3.72e-43}
    ]
  },
  "layer": [
    {
      "data": {"name": "arrow"},
      "transform": [{"filter": "false"}],
      "mark": {"type": "point"},
      "encoding": {
        "x": {"field": "mass", "type": "quantitative", "scale": {"type": "log", "domain": [5, 1000], "nice": false},
          "axis": {"orient": "bottom", "domain": false, "grid": false, "ticks": false, "tickSize": 0, "title": null,
            "values": [10, 100, 1000],
            "labelExpr": "datum.value == 10 ? '1' : datum.value == 100 ? '2' : '3'",
            "labelFont": "Liberation Serif", "labelFontSize": 30, "labelColor": "#1a1a1a", "labelPadding": 18, "labelOffset": 24,
            "labelBaseline": "top", "labelFlush": false, "labelOverlap": false, "labelBound": false}},
        "y": {"field": "xsec", "type": "quantitative", "scale": {"type": "log", "domain": [1e-48, 1e-39], "nice": false},
          "axis": {"orient": "left", "domain": false, "grid": false, "ticks": false, "tickSize": 0, "title": null,
            "values": [1e-48, 1e-46, 1e-44, 1e-42, 1e-40],
            "labelExpr": "datum.value < 1e-47 ? '−48' : datum.value < 1e-45 ? '−46' : datum.value < 1e-43 ? '−44' : datum.value < 1e-41 ? '−42' : '−40'",
            "labelFont": "Liberation Serif", "labelFontSize": 30, "labelColor": "#1a1a1a", "labelPadding": 5, "labelOffset": -26,
            "labelFlush": false, "labelOverlap": false, "labelBound": false}}
      }
    },
    {
      "encoding": {
        "x": {
          "field": "mass", "type": "quantitative",
          "scale": {"type": "log", "domain": [5, 1000], "nice": false, "zero": false},
          "axis": {
            "orient": "bottom", "domain": false, "grid": false,
            "values": [6, 7, 8, 9, 10, 20, 30, 40, 50, 60, 70, 80, 90, 100, 200, 300, 400, 500, 600, 700, 800, 900, 1000],
            "labelExpr": "datum.value == 10 || datum.value == 100 || datum.value == 1000 ? '10' : ''",
            "tickSize": {"condition": {"test": "datum.value == 10 || datum.value == 100 || datum.value == 1000", "value": -19}, "value": -9},
            "tickColor": "#999999", "tickWidth": 1.5,
            "labelFont": "Liberation Serif", "labelFontSize": 48, "labelColor": "#1a1a1a", "labelPadding": 45, "labelOffset": -6,
            "labelBaseline": "top", "labelFlush": false, "labelOverlap": false, "labelBound": false,
            "title": "WIMP Mass [GeV/c²]", "titleFont": "Liberation Serif", "titleFontSize": 50, "titleFontWeight": "normal", "titleColor": "#1a1a1a", "titlePadding": -4
          }
        },
        "y": {
          "field": "xsec", "type": "quantitative",
          "scale": {"type": "log", "domain": [1e-48, 1e-39], "nice": false, "zero": false},
          "axis": {
            "orient": "left", "domain": false, "grid": false,
            "values": [1e-48, 1e-46, 1e-44, 1e-42, 1e-40],
            "labelExpr": "'10'",
            "tickSize": -19, "tickColor": "#999999", "tickWidth": 1.5,
            "labelFont": "Liberation Serif", "labelFontSize": 48, "labelColor": "#1a1a1a", "labelPadding": 80, "labelOffset": 2,
            "labelFlush": false, "labelOverlap": false, "labelBound": false,
            "title": "Cross−section [cm²] (normalised to nucleon)", "titleFont": "Liberation Serif", "titleFontSize": 50, "titleFontWeight": "normal", "titleColor": "#1a1a1a", "titlePadding": 8
          }
        }
      },
      "layer": [
        {
          "data": {"name": "buch"},
          "mark": {"type": "line", "filled": true, "interpolate": "linear-closed", "fill": "#B4B8D6", "strokeWidth": 0},
          "encoding": {"detail": {"field": "part"}, "order": {"field": "i", "type": "quantitative"}}
        },
        {
          "data": {"name": "trotta"},
          "mark": {"type": "line", "filled": true, "interpolate": "linear-closed", "fill": "#BDDCB4", "strokeWidth": 0},
          "encoding": {"order": {"field": "i", "type": "quantitative"}}
        },
        {
          "data": {"name": "regions"},
          "transform": [{"filter": "datum.series === 'DAMA/LIBRA (3σ)'"}],
          "mark": {"type": "line", "filled": true, "interpolate": "cardinal-closed", "fill": "#5BB8C1", "strokeWidth": 0},
          "encoding": {"detail": {"field": "part"}, "order": {"field": "i", "type": "quantitative"}}
        },
        {
          "data": {"name": "regions"},
          "transform": [{"filter": "datum.series === 'CoGeNT ROI (90%CL)'"}],
          "mark": {"type": "line", "filled": true, "interpolate": "cardinal-closed", "fill": "#DB3431", "strokeWidth": 0},
          "encoding": {"detail": {"field": "part"}, "order": {"field": "i", "type": "quantitative"}}
        },
        {
          "data": {"name": "regions"},
          "transform": [{"filter": "datum.series === 'CRESST (2σ)'"}],
          "mark": {"type": "line", "filled": true, "interpolate": "cardinal-closed", "fill": "#E8963B", "strokeWidth": 0},
          "encoding": {"detail": {"field": "part"}, "order": {"field": "i", "type": "quantitative"}}
        },
        {
          "data": {"name": "cresst1"},
          "mark": {"type": "line", "filled": true, "interpolate": "cardinal-closed", "fill": "#8B3A22", "strokeWidth": 0},
          "encoding": {"order": {"field": "i", "type": "quantitative"}}
        },
        {
          "data": {"name": "limits"},
          "transform": [{"filter": "datum.series === 'CDMS+EDELWEISS (90%CL)'"}],
          "mark": {"type": "line", "stroke": "#878787", "strokeWidth": 5, "interpolate": "monotone"},
          "encoding": {}
        },
        {
          "data": {"name": "limits"},
          "transform": [{"filter": "datum.series === 'CDMS Low Mass (90%CL)'"}],
          "mark": {"type": "line", "stroke": "#8C46A6", "strokeWidth": 5, "interpolate": "monotone", "strokeCap": "round"},
          "encoding": {}
        },
        {
          "data": {"name": "limits"},
          "transform": [{"filter": "datum.series === 'ZEPLIN III (90%CL)'"}],
          "mark": {"type": "line", "stroke": "#5CB848", "strokeWidth": 6, "interpolate": "monotone", "strokeDash": [9, 11], "strokeCap": "butt"},
          "encoding": {}
        },
        {
          "data": {"name": "limits"},
          "transform": [{"filter": "datum.series === 'Xenon10 Low Mass (90%CL)'"}],
          "mark": {"type": "line", "stroke": "#D6344F", "strokeWidth": 6, "interpolate": "monotone", "strokeDash": [13, 10], "strokeCap": "butt"},
          "encoding": {}
        },
        {
          "data": {"name": "limits"},
          "transform": [{"filter": "datum.series === 'Xenon100 (90%CL)'"}],
          "mark": {"type": "line", "stroke": "#1F4E97", "strokeWidth": 6.5, "interpolate": "monotone", "strokeDash": [9, 11], "strokeCap": "butt"},
          "encoding": {}
        },
        {
          "data": {"name": "regions"},
          "transform": [{"filter": "false"}],
          "mark": {"type": "point", "filled": true},
          "encoding": {
            "color": {
              "field": "series", "type": "nominal",
              "scale": {"domain": ["DAMA/LIBRA (3σ)", "CRESST (2σ)", "CoGeNT ROI (90%CL)"], "range": ["#00B0F0", "#E89A3A", "#C00000"]},
              "legend": {
                "orient": "none", "legendX": 577, "legendY": 86, "title": null, "padding": 0,
                "labelFont": "Liberation Sans", "labelFontWeight": "bold", "labelFontSize": 21, "labelColor": "#000000", "labelLimit": 0,
                "symbolType": "M-3,-1H3V1H-3Z", "symbolSize": 256, "symbolOffset": 16, "labelOffset": 32, "rowPadding": 10.7,
                "symbolStrokeWidth": 0, "symbolOpacity": 1
              }
            }
          }
        },
        {
          "data": {"name": "limits"},
          "transform": [{"filter": "false"}],
          "mark": {"type": "line", "strokeWidth": 7},
          "encoding": {
            "stroke": {
              "field": "series", "type": "nominal",
              "scale": {"domain": ["CDMS+EDELWEISS (90%CL)", "ZEPLIN III (90%CL)", "CDMS Low Mass (90%CL)", "Xenon10 Low Mass (90%CL)", "Xenon100 (90%CL)"], "range": ["#707070", "#92D050", "#7030A0", "#C00000", "#0033CC"]},
              "legend": {
                "orient": "none", "legendX": 577, "legendY": 182, "title": null, "padding": 0,
                "labelFont": "Liberation Sans", "labelFontWeight": "bold", "labelFontSize": 21, "labelColor": "#000000", "labelLimit": 0,
                "symbolType": "M-3,0H3", "symbolSize": 256, "symbolOffset": 16, "labelOffset": 30, "rowPadding": 4,
                "symbolStrokeWidth": 7, "symbolOpacity": 1
              }
            },
            "strokeDash": {
              "field": "series", "type": "nominal",
              "scale": {"domain": ["CDMS+EDELWEISS (90%CL)", "ZEPLIN III (90%CL)", "CDMS Low Mass (90%CL)", "Xenon10 Low Mass (90%CL)", "Xenon100 (90%CL)"], "range": [[1, 0], [24, 8], [1, 0], [24, 8], [24, 8]]},
              "legend": {
                "orient": "none", "legendX": 577, "legendY": 182, "title": null, "padding": 0,
                "labelFont": "Liberation Sans", "labelFontWeight": "bold", "labelFontSize": 21, "labelColor": "#000000", "labelLimit": 0,
                "symbolType": "M-3,0H3", "symbolSize": 256, "symbolOffset": 16, "labelOffset": 30, "rowPadding": 4,
                "symbolStrokeWidth": 7, "symbolOpacity": 1
              }
            }
          }
        },
        {
          "data": {"name": "trotta"},
          "transform": [{"filter": "false"}],
          "mark": {"type": "point", "filled": true},
          "encoding": {
            "fill": {
              "field": "model", "type": "nominal",
              "scale": {"domain": ["Trotta et. al. (95%CL)", "Buchmueller et. al. (95%CL)"], "range": ["#C5E3A1", "#A6A6A6"]},
              "legend": {
                "orient": "none", "legendX": 28, "legendY": 807, "title": null, "padding": 0,
                "labelFont": "Liberation Sans", "labelFontWeight": "bold", "labelFontSize": 21, "labelColor": "#000000", "labelLimit": 0,
                "symbolType": "M-3,-1H3V1H-3Z", "symbolSize": 256, "symbolOffset": 16, "labelOffset": 34, "rowPadding": 12,
                "symbolStrokeWidth": 0, "symbolOpacity": 1
              }
            }
          }
        }
      ]
    },
    {
      "data": {"name": "arrow"},
      "layer": [
        {
          "mark": {"type": "rule", "color": "#FF0000", "strokeWidth": 9, "strokeCap": "butt"},
          "encoding": {
            "x": {"field": "mass", "type": "quantitative", "scale": {"type": "log", "domain": [5, 1000], "nice": false},
              "axis": {"orient": "top", "domain": false, "grid": false, "labels": false, "title": null,
                "values": [6, 7, 8, 9, 10, 20, 30, 40, 50, 60, 70, 80, 90, 100, 200, 300, 400, 500, 600, 700, 800, 900, 1000],
                "tickSize": {"condition": {"test": "datum.value == 10 || datum.value == 100 || datum.value == 1000", "value": -19}, "value": -9},
                "tickColor": "#999999", "tickWidth": 1.5}},
            "y": {"field": "xsec", "type": "quantitative", "scale": {"type": "log", "domain": [1e-48, 1e-39], "nice": false},
              "axis": {"orient": "right", "domain": false, "grid": false, "labels": false, "title": null,
                "values": [1e-48, 1e-46, 1e-44, 1e-42, 1e-40], "tickSize": -19, "tickColor": "#999999", "tickWidth": 1.5}},
            "x2": {"field": "mass2"},
            "y2": {"field": "xsec2"}
          }
        },
        {
          "mark": {"type": "point", "shape": "triangle-left", "filled": true, "color": "#FF0000", "size": 420, "angle": 340, "opacity": 1},
          "encoding": {
            "x": {"field": "mass2", "type": "quantitative", "scale": {"type": "log", "domain": [5, 1000], "nice": false},
              "axis": {"orient": "top", "domain": false, "grid": false, "labels": false, "title": null,
                "values": [6, 7, 8, 9, 10, 20, 30, 40, 50, 60, 70, 80, 90, 100, 200, 300, 400, 500, 600, 700, 800, 900, 1000],
                "tickSize": {"condition": {"test": "datum.value == 10 || datum.value == 100 || datum.value == 1000", "value": -19}, "value": -9},
                "tickColor": "#999999", "tickWidth": 1.5}},
            "y": {"field": "xsec2", "type": "quantitative", "scale": {"type": "log", "domain": [1e-48, 1e-39], "nice": false},
              "axis": {"orient": "right", "domain": false, "grid": false, "labels": false, "title": null,
                "values": [1e-48, 1e-46, 1e-44, 1e-42, 1e-40], "tickSize": -19, "tickColor": "#999999", "tickWidth": 1.5}}
          }
        }
      ]
    }
  ],
  "resolve": {"axis": {"x": "independent", "y": "independent"}}
}
